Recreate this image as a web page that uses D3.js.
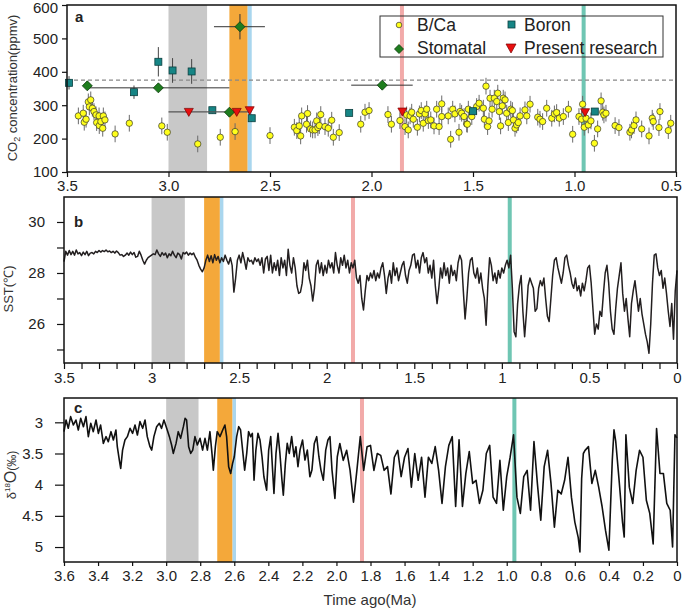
<!DOCTYPE html>
<html><head><meta charset="utf-8">
<script src="https://cdn.jsdelivr.net/npm/d3@7"></script>
<style>body{margin:0;background:#fff} text{font-family:Arial,"Liberation Sans",sans-serif}</style>
</head><body><svg id="chart" width="684" height="610"></svg>
<script>
// ---------- DATA ----------
// Event bands (Ma)
const grayBand = [3.0, 2.81];
const orangeBand = [2.70, 2.61];
const blueBand = [2.61, 2.59];
const pinkLine = 1.85;
const tealLine = 0.955;
const modernCO2 = 375;

// Panel a: CO2 proxies [age Ma, ppmv]
const bcaData = [[3.444,268],[3.42,276],[3.415,249],[3.406,258],[3.395,310],[3.383,316],[3.39,295],[3.375,291],[3.367,281],[3.357,271],[3.354,248],[3.342,268],[3.341,239],[3.333,251],[3.324,231],[3.321,268],[3.313,256],[3.263,214],[3.193,246],[3.033,238],[3.006,219],[2.856,184],[2.745,204],[2.672,221],[2.50,209],
[2.38,234],[2.368,224],[2.356,238],[2.349,208],[2.344,268],[2.32,243],[2.315,275],[2.30,229],[2.29,226],[2.278,226],[2.27,253],[2.264,233],[2.257,239],[2.25,272],[2.229,236],[2.213,231],[2.196,255],[2.188,204],[2.159,218],[2.053,243],[2.032,279],[2.012,284],[1.919,272],[1.902,243],[1.86,254],[1.835,236],[1.827,271],[1.819,226],[1.81,268],[1.802,279],[1.794,258],[1.774,234],[1.764,274],[1.755,284],[1.745,246],[1.736,274],[1.728,288],[1.72,254],[1.708,256],[1.692,238],[1.679,288],[1.667,236],[1.654,304],[1.654,266],[1.622,268],[1.61,198],[1.60,288],[1.589,274],[1.569,219],[1.564,281],[1.556,276],[1.544,266],[1.531,244],[1.523,288],
[1.528,243],[1.506,266],[1.482,296],[1.47,306],[1.449,291],[1.444,258],[1.436,357],[1.428,236],[1.421,253],[1.416,321],[1.406,288],[1.395,321],[1.383,311],[1.378,336],[1.37,281],[1.364,238],[1.356,298],[1.351,321],[1.342,316],[1.334,276],[1.326,248],[1.314,288],[1.306,284],[1.301,256],[1.293,231],[1.285,241],[1.277,248],[1.268,268],[1.244,286],[1.235,268],[1.219,303],[1.181,264],[1.17,258],[1.157,251],[1.137,291],[1.112,261],[1.099,274],[1.088,278],[1.075,261],[1.055,266],[1.03,288],[1.009,213],[0.978,266],[0.965,258],[0.96,303],[0.952,234],[0.943,261],[0.932,241],[0.919,253],[0.902,186],[0.886,229],[0.869,313],[0.861,279],[0.855,271],[0.845,276],[0.80,239],[0.781,233],[0.727,219],[0.719,226],[0.707,239],[0.697,256],[0.669,229],[0.633,208],[0.617,261],[0.612,251],[0.584,233],[0.579,281],[0.538,224],[0.526,246]];
const bcaErr = 25;
// Boron [age, ppmv, error]
const boronData = [[3.49,367,20],[3.17,339,20],[3.05,430,44],[2.98,404,37],[2.886,401,37],[2.784,285,10],[2.59,261,10],[2.11,277,10],[1.50,282,10],[0.90,281,10]];
// Stomatal [age, ppmv, ageMin, ageMax, errPpmv]
const stomatalData = [[3.40,358,null,null,10],[3.05,352,3.40,2.70,10],[2.70,279,null,null,0],[2.648,535,2.776,2.525,38],[1.947,360,2.10,1.797,0]];
// Present research [age, ppmv]
const presentData = [[2.90,280],[2.664,280],[2.60,285],[1.848,281],[0.948,279]];
const presentRange = [3.0, 2.595, 280];

// Panel b: SST (degC) [age, value]
const sstData = [[3.50,28.45],[3.49,28.85],[3.48,28.7],[3.47,28.88],[3.46,28.72],[3.45,28.85],[3.44,28.7],[3.43,28.9],[3.42,28.75],[3.41,28.8],[3.40,28.68],[3.39,28.82],[3.38,28.72],[3.37,28.85],[3.36,28.68],[3.35,28.78],[3.34,28.8],[3.33,28.75],[3.32,28.85],[3.31,28.8],[3.30,28.88],[3.29,28.82],[3.28,28.88],[3.27,28.84],[3.26,28.9],[3.25,28.83],[3.24,28.86],[3.23,28.8],[3.22,28.85],[3.21,28.78],[3.20,28.86],[3.19,28.8],[3.18,28.7],[3.17,28.72],[3.16,28.65],[3.15,28.7],[3.14,28.78],[3.13,28.7],[3.12,28.82],[3.11,28.72],[3.10,28.8],[3.09,28.62],[3.08,28.65],[3.07,28.85],[3.06,28.7],[3.05,28.5],[3.04,28.35],[3.03,28.5],[3.02,28.6],[3.01,28.65],[3.00,28.7],[2.99,28.75],[2.98,28.72],[2.97,28.9],[2.96,28.75],[2.95,28.65],[2.94,28.8],[2.93,28.7],[2.92,28.78],[2.91,28.6],[2.90,28.75],[2.89,28.68],[2.88,28.85],[2.87,28.7],[2.86,28.6],[2.85,28.78],[2.84,28.72],[2.83,28.55],[2.82,28.8],[2.81,28.75],[2.80,28.82],[2.79,28.7],[2.78,28.78],[2.77,28.72],[2.76,28.78],[2.75,28.62],[2.74,28.5],[2.73,28.3],[2.72,28.15],[2.71,28.05],[2.70,28.2],[2.69,28.5],[2.68,28.7],[2.67,28.45],[2.66,28.68],[2.65,28.4],[2.64,28.72],[2.63,28.5],[2.62,28.65],[2.61,28.4],[2.60,28.6],[2.59,28.45],[2.58,28.7],[2.57,28.5],[2.56,28.35],[2.55,28.6],[2.54,28.3],[2.53,27.25],[2.52,27.8],[2.51,28.5],[2.50,28.7],[2.49,28.4],[2.48,28.8],[2.47,28.5],[2.46,28.15],[2.45,28.6],[2.44,28.45],[2.43,28.5],[2.42,28.35],[2.41,28.6],[2.40,28.45],[2.39,28.55],[2.38,28.3],[2.37,28.6],[2.36,28.0],[2.35,28.55],[2.34,28.65],[2.33,28.1],[2.32,28.7],[2.31,28.0],
[2.30,28.4],[2.29,28.1],[2.28,28.5],[2.27,27.9],[2.26,28.6],[2.25,28.2],[2.24,28.5],[2.23,27.9],[2.22,28.93],[2.21,28.3],[2.20,28.0],[2.19,28.6],[2.18,28.2],[2.17,27.5],[2.16,27.2],[2.15,27.25],[2.14,27.6],[2.13,28.4],[2.12,28.1],[2.11,28.5],[2.10,27.8],[2.09,27.5],[2.08,26.9],[2.07,27.4],[2.06,28.3],[2.05,28.5],[2.04,28.0],[2.03,28.4],[2.02,27.9],[2.01,28.3],[2.00,28.0],[1.99,28.5],[1.98,28.2],[1.97,28.4],[1.96,28.0],[1.95,28.8],[1.94,28.3],[1.93,28.0],
[1.92,28.6],[1.91,28.3],[1.90,28.7],[1.89,28.2],[1.88,28.5],[1.87,28.0],[1.86,28.4],[1.85,28.2],[1.84,28.5],[1.83,27.8],[1.82,27.6],[1.81,27.9],[1.80,27.0],[1.79,26.55],[1.78,27.3],[1.77,27.9],[1.76,27.7],[1.75,28.0],[1.74,27.8],[1.73,28.1],[1.72,27.7],[1.71,28.0],[1.70,27.8],[1.69,28.2],[1.68,28.4],[1.67,27.9],[1.66,27.2],[1.65,27.8],[1.64,28.1],[1.63,27.6],[1.62,28.4],[1.61,27.9],[1.60,28.2],[1.59,27.7],[1.58,28.0],[1.57,28.3],[1.56,28.45],[1.55,27.9],[1.54,27.6],[1.53,28.1],[1.52,28.3],[1.51,28.7],[1.50,28.75],[1.49,28.2],[1.48,28.5],[1.47,28.0],[1.46,28.6],[1.45,28.8],[1.44,28.4],[1.43,28.6],[1.42,28.0],[1.41,28.3],[1.40,27.8],[1.39,28.5],[1.38,27.5],[1.37,26.8],[1.36,27.4],[1.35,28.2],[1.34,27.8],[1.33,28.4],[1.32,27.9],[1.31,28.2],[1.30,27.6],[1.29,28.3],[1.28,27.9],[1.27,28.1],[1.26,27.7],[1.25,28.4],[1.24,28.7],[1.23,28.5],[1.22,27.3],[1.21,26.2],[1.20,27.0],[1.19,28.0],[1.18,28.5],[1.17,28.6],[1.16,28.0],[1.15,27.8],[1.14,28.2],[1.13,27.6],[1.12,28.0],[1.11,27.4],[1.10,27.0],[1.09,25.95],[1.08,27.5],[1.07,28.6],[1.06,28.3],[1.05,27.7],[1.04,28.0],[1.03,27.6],[1.02,28.1],[1.01,27.8],[1.00,28.2],[0.99,28.0],[0.98,28.3],[0.97,28.5],[0.96,28.2],[0.95,28.7],[0.94,27.4],[0.93,25.7],[0.92,25.5],[0.91,26.8],[0.90,27.5],[0.89,27.9],[0.88,26.5],[0.87,25.5],[0.86,26.4],[0.85,27.5],[0.84,27.8],[0.83,27.6],[0.82,27.4],[0.81,26.5],[0.80,26.6],[0.79,27.4],[0.78,27.7],[0.77,27.5],[0.76,27.8],[0.75,27.0],[0.74,26.3],[0.73,26.1],[0.72,27.0],[0.71,27.9],[0.70,28.5],[0.69,28.6],[0.68,28.2],[0.67,27.9],[0.66,27.6],[0.65,28.0],[0.64,28.6],[0.63,28.7],[0.62,28.3],[0.61,28.0],[0.60,27.6],[0.59,27.4],[0.58,27.8],[0.57,27.3],[0.56,27.5],[0.55,27.1],[0.54,27.6],[0.53,27.3],[0.52,27.7],[0.51,28.2],[0.50,28.3],[0.49,27.6],[0.48,26.6],[0.47,25.6],[0.46,26.0],[0.45,25.8],[0.44,26.5],[0.43,26.3],[0.42,27.2],[0.41,28.0],[0.40,28.3],[0.39,27.6],[0.38,26.5],[0.37,25.8],[0.36,25.6],[0.35,26.6],[0.34,27.4],[0.33,27.9],[0.32,28.4],[0.31,27.2],[0.30,26.5],[0.29,27.0],[0.28,26.2],[0.27,25.5],[0.26,26.8],[0.25,27.3],[0.24,27.7],[0.23,27.1],[0.22,26.5],[0.21,27.0],[0.20,26.4],[0.19,26.0],[0.18,25.6],[0.17,25.3],[0.16,24.85],[0.15,26.0],[0.14,27.6],[0.13,28.7],[0.12,28.75],[0.11,28.2],[0.10,27.9],[0.09,28.1],[0.08,27.4],[0.07,27.8],[0.06,27.2],[0.05,26.5],[0.04,25.9],[0.03,26.8],[0.02,25.4],[0.01,27.3],[0.00,28.1]];

// Panel c: benthic d18O (permil) [age, value]
const d18oData = [[3.600,3.15],[3.588,2.963],[3.575,3.096],[3.561,2.909],[3.545,3.043],[3.530,2.963],[3.516,3.123],[3.502,2.936],[3.486,3.07],[3.471,2.909],[3.457,3.23],[3.443,3.016],[3.428,3.15],[3.412,2.963],[3.398,3.177],[3.385,3.043],[3.369,3.338],[3.353,3.23],[3.340,3.311],[3.324,3.15],[3.310,3.284],[3.295,3.123],[3.287,3.391],[3.275,3.605],[3.267,3.739],[3.256,3.445],[3.242,3.284],[3.228,3.23],[3.212,3.096],[3.197,3.177],[3.183,3.043],[3.169,3.204],[3.154,2.989],[3.138,3.096],[3.124,2.963],[3.111,3.23],[3.095,3.391],[3.085,3.445],[3.072,3.23],[3.056,3.07],[3.040,3.016],[3.027,3.096],[3.013,2.963],[2.997,3.096],[2.981,3.23],[2.968,3.364],[2.958,3.498],[2.942,3.338],[2.929,3.15],[2.915,3.257],[2.899,3.07],[2.889,2.936],[2.880,2.963],[2.868,3.391],[2.856,3.498],[2.844,3.445],[2.831,3.23],[2.817,3.364],[2.801,3.257],[2.786,3.445],[2.772,3.257],[2.758,3.445],[2.743,3.15],[2.731,3.498],[2.723,3.766],[2.711,3.391],[2.700,3.15],[2.684,3.23],[2.668,3.123],[2.655,3.043],[2.645,3.23],[2.633,3.712],[2.621,3.82],[2.610,3.659],[2.600,3.552],[2.586,3.23],[2.574,3.07],[2.563,3.123],[2.551,3.445],[2.539,3.766],[2.527,3.498],[2.516,3.15],[2.504,3.23],[2.494,3.177],[2.484,3.927],[2.473,3.445],[2.461,3.177],[2.449,3.284],[2.437,3.552],[2.426,3.873],[2.410,4.087],[2.398,3.445],[2.386,3.23],[2.375,3.766],[2.367,4.141],[2.355,3.498],[2.343,3.177],[2.332,3.498],[2.320,3.927],[2.312,4.168],[2.300,3.659],[2.289,3.338],[2.277,3.498],[2.263,3.23],[2.249,3.552],[2.238,3.391],[2.226,3.712],[2.214,3.445],[2.199,3.284],[2.185,3.605],[2.171,3.445],[2.156,3.873],[2.144,3.766],[2.130,3.338],[2.116,3.23],[2.103,3.552],[2.091,3.766],[2.077,3.927],[2.063,3.445],[2.050,3.284],[2.038,3.23],[2.026,3.766],[2.009,4.221],[1.995,3.552],
[1.98,3.34],[1.96,3.61],[1.94,3.45],[1.92,3.77],[1.90,4.28],[1.88,3.77],[1.86,3.23],[1.84,3.77],[1.82,3.39],[1.80,3.37],[1.78,3.77],[1.76,3.5],[1.74,3.53],[1.72,3.77],[1.70,3.71],[1.68,4.15],[1.66,3.56],[1.64,3.45],[1.62,3.87],[1.60,3.56],[1.58,3.42],[1.56,4.04],[1.54,3.5],[1.52,3.93],[1.50,3.56],[1.48,4.2],[1.46,3.56],[1.44,3.66],[1.42,3.39],[1.40,3.77],[1.38,4.3],[1.36,3.71],[1.34,3.37],[1.32,3.23],[1.30,4.35],[1.28,3.28],[1.26,4.35],[1.24,3.82],[1.22,3.47],[1.20,3.98],[1.18,3.93],[1.16,4.3],[1.14,4.09],[1.12,3.5],[1.10,3.37],[1.08,4.2],[1.06,4.3],[1.04,3.61],[1.02,4.41],[1.00,3.87],[0.98,3.56],[0.96,3.2],[0.94,4.2],[0.92,4.46],[0.90,3.87],[0.88,3.77],[0.86,4.41],[0.84,3.31],[0.82,3.98],[0.80,4.57],[0.78,3.71],[0.76,3.45],[0.74,3.98],[0.72,4.68],[0.70,4.09],[0.68,4.15],[0.66,3.93],[0.64,3.56],[0.62,4.2],[0.60,4.6],[0.58,4.85],[0.57,5.08],[0.56,3.9],[0.55,3.5],[0.54,3.45],[0.52,3.39],[0.50,3.98],[0.48,3.77],[0.46,4.04],[0.44,4.35],[0.42,4.73],[0.40,5.05],[0.38,3.6],[0.37,3.12],[0.36,3.3],[0.34,3.93],[0.32,4.6],[0.31,4.84],[0.30,3.2],[0.28,4.04],[0.26,4.3],[0.24,3.77],[0.22,3.45],[0.20,3.56],[0.18,4.25],[0.16,4.46],[0.14,4.95],[0.12,3.1],[0.10,3.82],[0.08,3.82],[0.06,4.3],[0.04,4.41],[0.026,5.0],[0.012,3.2],[0.00,3.25]];

// Tick values
const aYTicks = [100,200,300,400,500,600];
const aXTicks = [3.5,3.0,2.5,2.0,1.5,1.0,0.5];
const bYTicks = [25,26,27,28,29,30];
const bYLabels = [26,28,30];
const bXLabels = [3.5,3,2.5,2,1.5,1,0.5,0];
const cYTicks = [3,3.5,4,4.5,5];
const cXTicks = [3.6,3.4,3.2,3.0,2.8,2.6,2.4,2.2,2.0,1.8,1.6,1.4,1.2,1.0,0.8,0.6,0.4,0.2,0];

// ---------- DRAW ----------
const svg = d3.select("#chart");
const C = {gray:"#c8c8c8", orange:"#f4a83a", blue:"#a9d6ee", pink:"#f2aaa9", teal:"#6fc6b3"};

function drawBands(x, top, bottom) {
  const g = svg.append("g");
  const band = (b, col) => g.append("rect").attr("x", x(b[0])).attr("width", x(b[1]) - x(b[0]))
      .attr("y", top).attr("height", bottom - top).attr("fill", col);
  band(grayBand, C.gray); band(orangeBand, C.orange); band(blueBand, C.blue);
  const vline = (t, col) => g.append("rect").attr("x", x(t) - 2).attr("width", 4)
      .attr("y", top).attr("height", bottom - top).attr("fill", col);
  vline(pinkLine, C.pink); vline(tealLine, C.teal);
}
function styleAxis(g, fs) {
  g.select(".domain").remove();
  g.selectAll(".tick line").attr("stroke", "#111").attr("stroke-width", 1.2);
  g.selectAll(".tick text").attr("fill", "#222").style("font-size", fs + "px");
}
function frame(l, t, r, b) {
  svg.append("rect").attr("x", l).attr("y", t).attr("width", r - l).attr("height", b - t)
    .attr("fill", "none").attr("stroke", "#111").attr("stroke-width", 1.5);
}
function letter(s, x, y) {
  svg.append("text").attr("x", x).attr("y", y).text(s).style("font-size", "15px").style("font-weight", "bold").attr("fill", "#222");
}

// ----- Panel a -----
const aL = 67, aR = 676, aT = 5, aB = 172;
const xA = d3.scaleLinear().domain([3.5, 0.5]).range([aL, aR]);
const yA = d3.scaleLinear().domain([100, 600]).range([aB, aT]);
drawBands(xA, aT, aB);
svg.append("line").attr("x1", aL).attr("x2", aR).attr("y1", yA(modernCO2)).attr("y2", yA(modernCO2))
  .attr("stroke", "#888").attr("stroke-width", 1.1).attr("stroke-dasharray", "4,3");

const gA = svg.append("g");
// B/Ca
gA.selectAll(".be").data(bcaData).join("line")
  .attr("x1", d => xA(d[0])).attr("x2", d => xA(d[0]))
  .attr("y1", d => yA(d[1] - bcaErr)).attr("y2", d => yA(d[1] + bcaErr))
  .attr("stroke", "#6a6a6a").attr("stroke-width", 1);
gA.selectAll(".bc").data(bcaData).join("circle")
  .attr("cx", d => xA(d[0])).attr("cy", d => yA(d[1])).attr("r", 3.2)
  .attr("fill", "#ffff1a").attr("stroke", "#333").attr("stroke-width", 0.7);
// Boron
gA.selectAll(".boe").data(boronData).join("line")
  .attr("x1", d => xA(d[0])).attr("x2", d => xA(d[0]))
  .attr("y1", d => yA(d[1] - d[2])).attr("y2", d => yA(d[1] + d[2]))
  .attr("stroke", "#444").attr("stroke-width", 1);
gA.selectAll(".bo").data(boronData).join("rect")
  .attr("x", d => xA(d[0]) - 3.5).attr("y", d => yA(d[1]) - 3.5).attr("width", 7).attr("height", 7)
  .attr("fill", "#168585").attr("stroke", "#0b3f3f").attr("stroke-width", 0.8);
// Present research range line
gA.append("line").attr("x1", xA(presentRange[0])).attr("x2", xA(presentRange[1]))
  .attr("y1", yA(presentRange[2])).attr("y2", yA(presentRange[2])).attr("stroke", "#555").attr("stroke-width", 1.2);
// Stomatal
stomatalData.forEach(d => {
  if (d[2] !== null) gA.append("line").attr("x1", xA(d[2])).attr("x2", xA(d[3])).attr("y1", yA(d[1])).attr("y2", yA(d[1])).attr("stroke", "#333").attr("stroke-width", 1);
  if (d[4] > 0) gA.append("line").attr("x1", xA(d[0])).attr("x2", xA(d[0])).attr("y1", yA(d[1] - d[4])).attr("y2", yA(d[1] + d[4])).attr("stroke", "#333").attr("stroke-width", 1);
});
const diamond = "M0,-5L5,0L0,5L-5,0Z";
gA.selectAll(".st").data(stomatalData).join("path")
  .attr("d", diamond).attr("transform", d => `translate(${xA(d[0])},${yA(d[1])})`)
  .attr("fill", "#1e7d1e").attr("stroke", "#0b3a0b").attr("stroke-width", 0.8);
const triDown = "M-4.5,-3.5L4.5,-3.5L0,4.5Z";
gA.selectAll(".pr").data(presentData).join("path")
  .attr("d", triDown).attr("transform", d => `translate(${xA(d[0])},${yA(d[1])})`)
  .attr("fill", "#e80f0f").attr("stroke", "#7a0000").attr("stroke-width", 0.7);

// legend
const lg = svg.append("g");
lg.append("rect").attr("x", 380).attr("y", 16).attr("width", 283).attr("height", 41).attr("fill", "none").attr("stroke", "#333").attr("stroke-width", 1);
lg.append("circle").attr("cx", 399).attr("cy", 25).attr("r", 2.8).attr("fill", "#ffff1a").attr("stroke", "#333").attr("stroke-width", 0.7);
lg.append("rect").attr("x", 508).attr("y", 21).attr("width", 7).attr("height", 7).attr("fill", "#168585").attr("stroke", "#0b3f3f").attr("stroke-width", 0.8);
lg.append("path").attr("d", "M0,-4.5L4.5,0L0,4.5L-4.5,0Z").attr("transform", "translate(399,49)").attr("fill", "#1e7d1e").attr("stroke", "#0b3a0b").attr("stroke-width", 0.8);
lg.append("path").attr("d", "M-5,-4L5,-4L0,5Z").attr("transform", "translate(511,48)").attr("fill", "#e80f0f").attr("stroke", "#7a0000").attr("stroke-width", 0.7);
const legTxt = [["B/Ca", 417, 31], ["Boron", 524, 31], ["Stomatal", 417, 54], ["Present research", 524, 54]];
legTxt.forEach(t => lg.append("text").attr("x", t[1]).attr("y", t[2]).text(t[0]).style("font-size", "17.5px").attr("fill", "#222"));

svg.append("g").attr("transform", `translate(${aL},0)`)
  .call(d3.axisLeft(yA).tickValues(aYTicks).tickSize(5).tickPadding(4)).call(g => styleAxis(g, 15))
  .call(g => g.selectAll(".tick text").filter(d => d === 600).attr("dy", "0.5em"));
svg.append("g").attr("transform", `translate(0,${aB})`)
  .call(d3.axisBottom(xA).tickValues(aXTicks).tickFormat(d3.format(".1f")).tickSize(5).tickPadding(3)).call(g => styleAxis(g, 15))
  .call(g => g.selectAll(".tick text").filter(d => d === 0.5).attr("dx", -5));
frame(aL, aT, aR, aB);
letter("a", 75, 22);
const yLabA = svg.append("text").attr("transform", "translate(17,88) rotate(-90)").attr("text-anchor", "middle")
  .style("font-size", "13px").attr("fill", "#333");
yLabA.append("tspan").text("CO");
yLabA.append("tspan").text("2").style("font-size", "9px").attr("dy", 3);
yLabA.append("tspan").text(" concentration(ppmv)").attr("dy", -3);

// ----- Panel b -----
const bL = 64, bR = 677, bT = 197, bB = 363;
const xB = d3.scaleLinear().domain([3.5, 0]).range([bL, bR]);
const yB = d3.scaleLinear().domain([24.47, 30.98]).range([bB, bT]);
drawBands(xB, bT, bB);
const lineB = d3.line().x(d => xB(d[0])).y(d => yB(d[1]));
svg.append("path").datum(sstData).attr("d", lineB).attr("fill", "none").attr("stroke", "#231f20").attr("stroke-width", 1.5).attr("stroke-linejoin", "round");
const bXTicks = d3.range(0, 36).map(i => i / 10);
svg.append("g").attr("transform", `translate(0,${bB})`)
  .call(d3.axisBottom(xB).tickValues(bXTicks).tickSize(6).tickPadding(3)
    .tickFormat(d => bXLabels.some(v => Math.abs(v - d) < 1e-6) ? String(+d.toFixed(1)) : ""))
  .call(g => styleAxis(g, 15));
svg.append("g").attr("transform", `translate(${bL},0)`)
  .call(d3.axisLeft(yB).tickValues(bYTicks).tickSize(7).tickPadding(12)
    .tickFormat(d => bYLabels.includes(d) ? String(d) : ""))
  .call(g => styleAxis(g, 15));
frame(bL, bT, bR, bB);
letter("b", 74, 227);
svg.append("text").attr("transform", "translate(13,289) rotate(-90)").attr("text-anchor", "middle")
  .style("font-size", "13px").attr("fill", "#333").text("SST(℃)");

// ----- Panel c -----
const cL = 64, cR = 677, cT = 398, cB = 562;
const xC = d3.scaleLinear().domain([3.6, 0]).range([cL, cR]);
const yC = d3.scaleLinear().domain([2.61, 5.24]).range([cT, cB]);
drawBands(xC, cT, cB);
const lineC = d3.line().x(d => xC(d[0])).y(d => yC(d[1]));
svg.append("path").datum(d18oData).attr("d", lineC).attr("fill", "none").attr("stroke", "#111").attr("stroke-width", 1.6).attr("stroke-linejoin", "round");
svg.append("g").attr("transform", `translate(0,${cB})`)
  .call(d3.axisBottom(xC).tickValues(cXTicks).tickSize(4).tickPadding(4).tickFormat(d => d === 0 ? "0" : d3.format(".1f")(d)))
  .call(g => styleAxis(g, 15));
svg.append("g").attr("transform", `translate(${cL},0)`)
  .call(d3.axisLeft(yC).tickValues(cYTicks).tickSize(9).tickPadding(12).tickFormat(d => String(d)))
  .call(g => styleAxis(g, 15));
frame(cL, cT, cR, cB);
letter("c", 74, 413);
const yLabC = svg.append("text").attr("transform", "translate(16,475) rotate(-90)").attr("text-anchor", "middle").attr("fill", "#333");
yLabC.append("tspan").text("δ").style("font-size", "13px");
yLabC.append("tspan").text("18").style("font-size", "8px").attr("dy", -6);
yLabC.append("tspan").text("O").style("font-size", "16px").attr("dy", 6);
yLabC.append("tspan").text("(‰)").style("font-size", "12px");

svg.append("text").attr("x", 370).attr("y", 605).attr("text-anchor", "middle")
  .style("font-size", "15px").attr("fill", "#333").text("Time ago(Ma)");
</script>
</body></html>
